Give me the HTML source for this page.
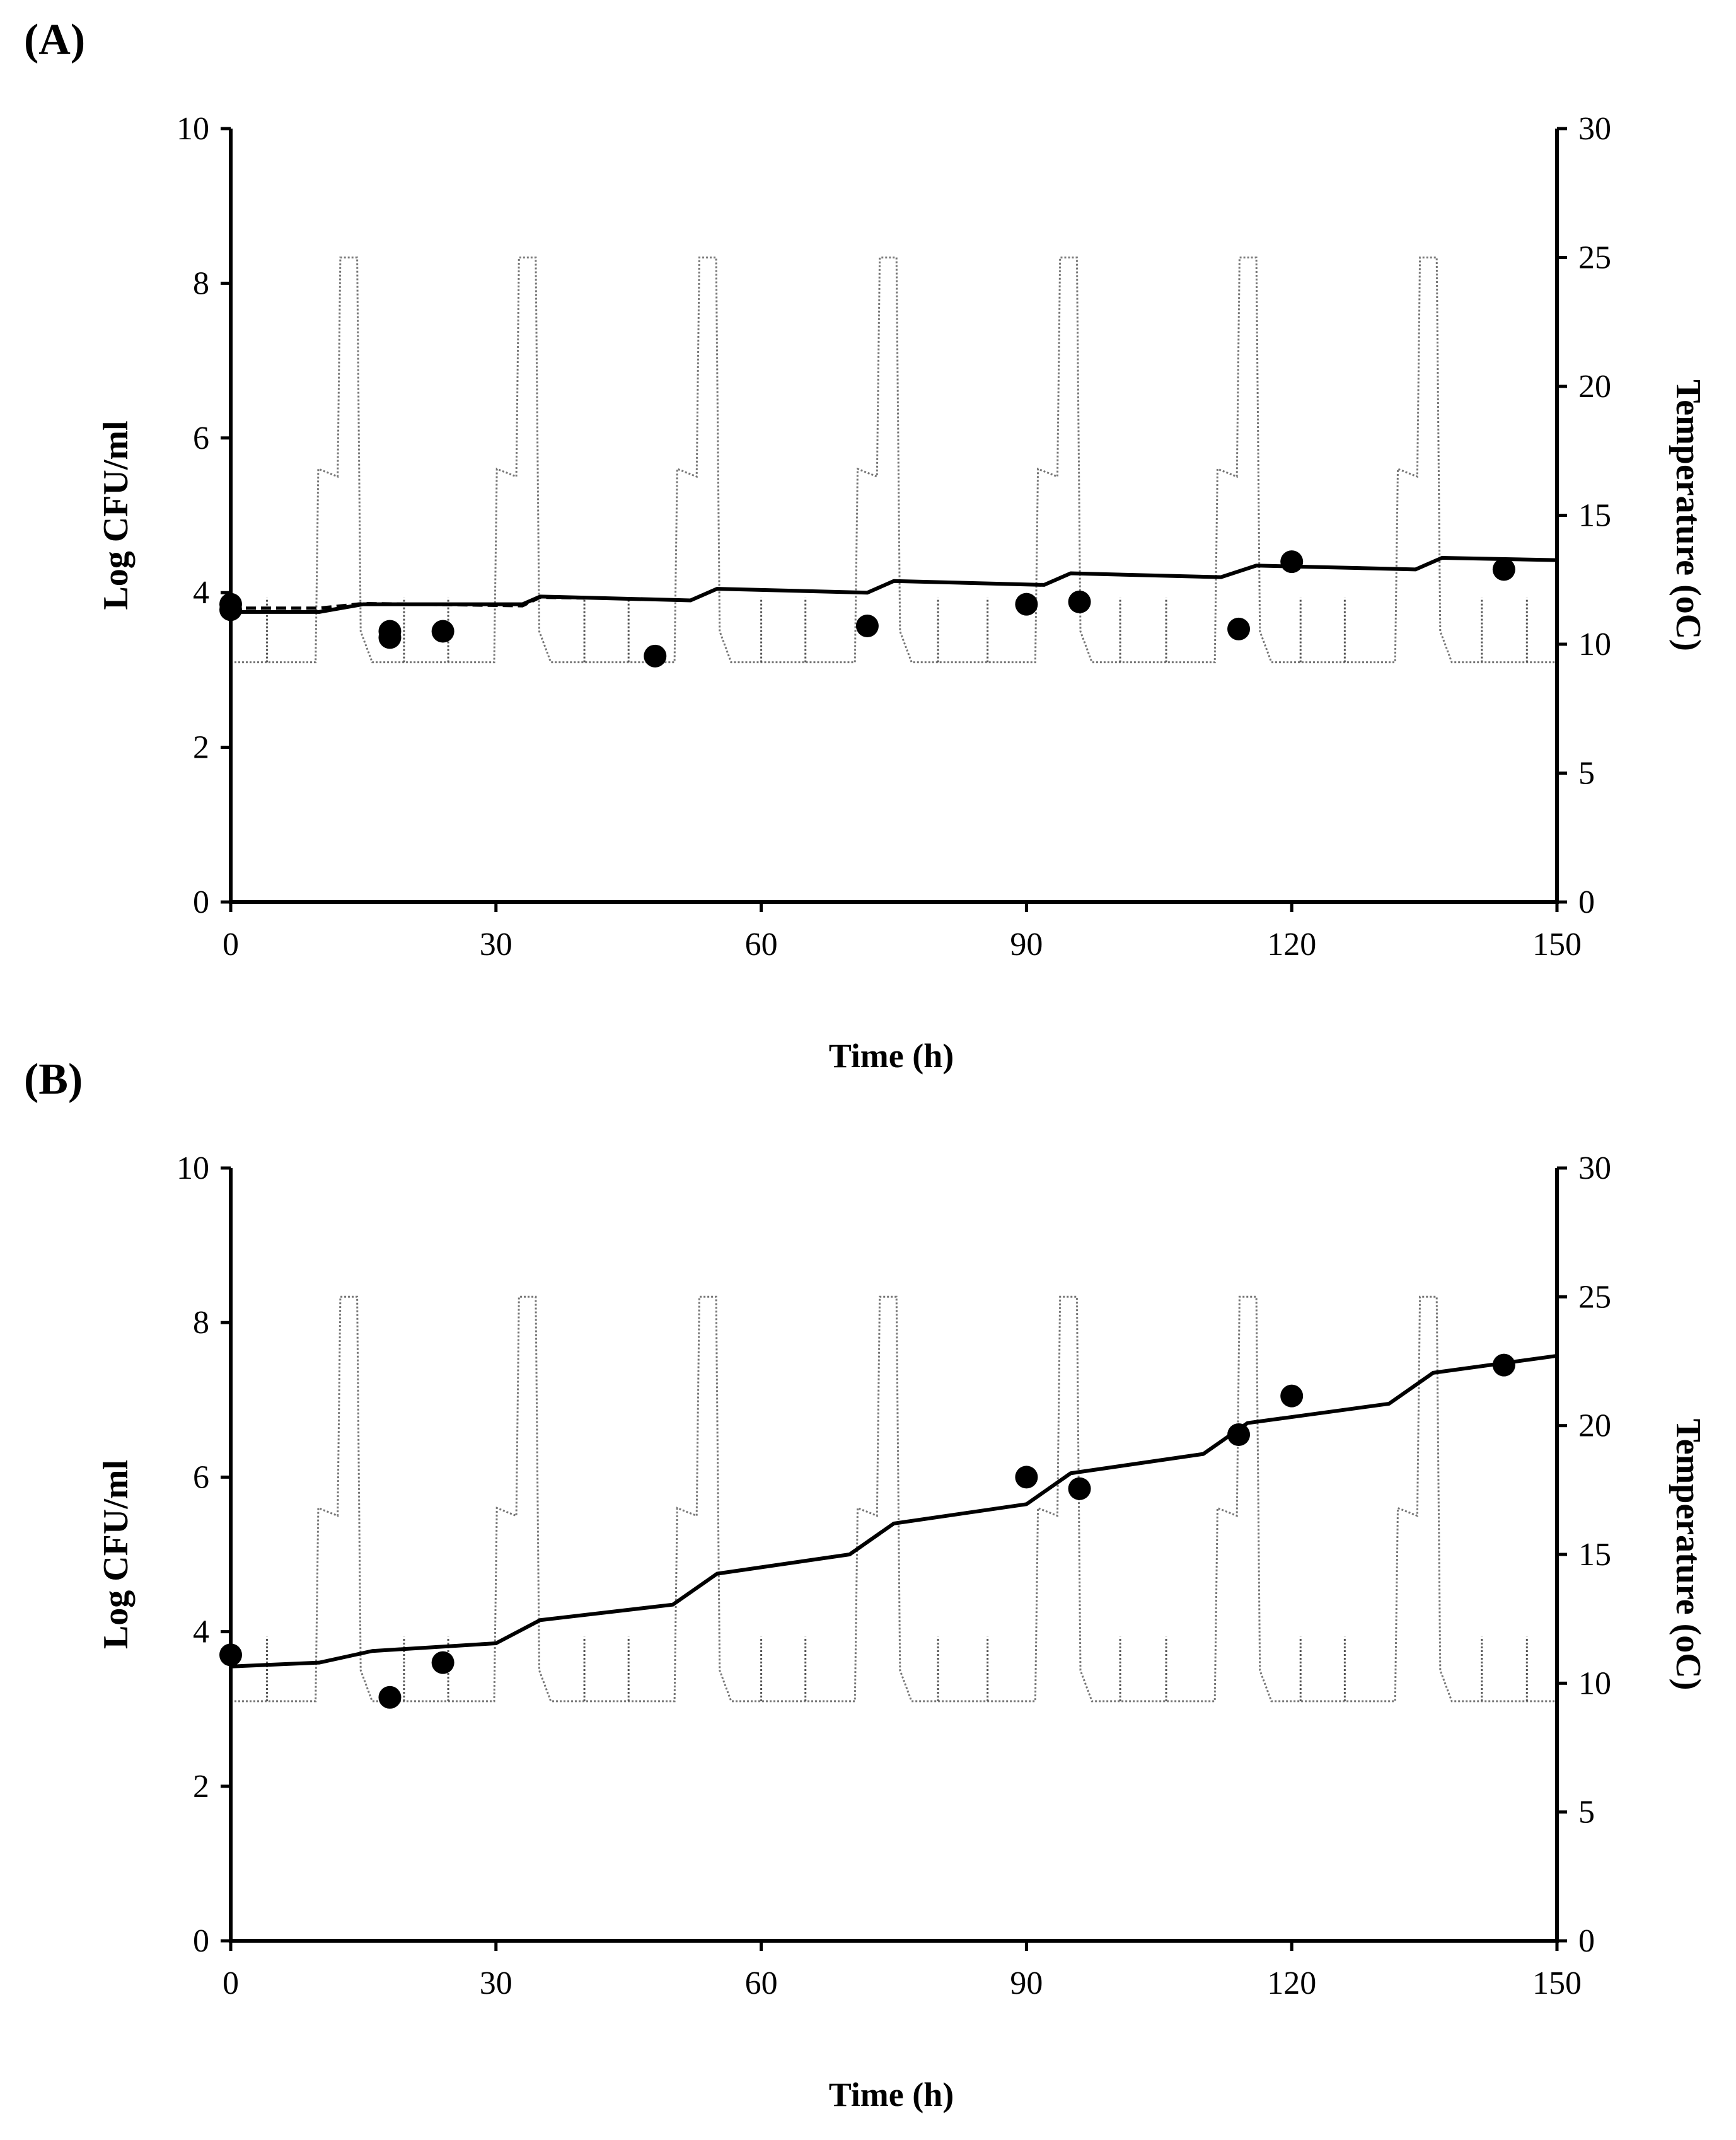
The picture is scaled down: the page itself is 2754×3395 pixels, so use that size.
<!DOCTYPE html>
<html><head><meta charset="utf-8"><style>
html,body{margin:0;padding:0;background:#fff;}
svg{display:block;font-family:"Liberation Serif",serif;}
</style></head><body>
<svg id="chart" width="2754" height="3395" viewBox="0 0 2754 3395" xmlns="http://www.w3.org/2000/svg"></svg>
<script>
// ---- data ----
const xTicks = [0,30,60,90,120,150];
const yTicksLeft = [0,2,4,6,8,10];
const yTicksRight = [0,5,10,15,20,25,30];
const tempTimes = [0,9.6,9.9,12.1,12.4,14.3,14.7,16.0,29.8,30.1,32.3,32.6,34.5,34.9,36.2,50.2,50.5,52.7,53.0,54.9,55.3,56.6,70.6,70.9,73.1,73.4,75.3,75.7,77.0,91.0,91.3,93.5,93.8,95.7,96.1,97.4,111.3,111.6,113.8,114.1,116.0,116.4,117.7,131.7,132.0,134.2,134.5,136.4,136.8,138.1,150];
const tempValues = [9.3,9.3,16.8,16.5,25,25,10.5,9.3,9.3,16.8,16.5,25,25,10.5,9.3,9.3,16.8,16.5,25,25,10.5,9.3,9.3,16.8,16.5,25,25,10.5,9.3,9.3,16.8,16.5,25,25,10.5,9.3,9.3,16.8,16.5,25,25,10.5,9.3,9.3,16.8,16.5,25,25,10.5,9.3,9.3];
const spikeTimes = [4.1,19.6,24.6,40,45,60,65,80,85.6,100.6,105.8,121,126,141.5,146.6];
const spikeTop = 11.8;
const spikeBase = 9.3;
const modelATimes = [0,10,15,33,35,52,55,72,75,92,95,112,116,134,137,150];
const modelAValues = [3.75,3.75,3.85,3.85,3.95,3.9,4.05,4.0,4.15,4.1,4.25,4.2,4.35,4.3,4.45,4.42];
const dashATimes = [0,10,15,33,35,40];
const dashAValues = [3.8,3.8,3.86,3.83,3.94,3.93];
const obsATimes = [0,0,18,18,24,48,72,90,96,114,120,144];
const obsAValues = [3.85,3.78,3.5,3.42,3.5,3.18,3.57,3.85,3.88,3.53,4.4,4.3];
const modelBTimes = [0,10,16,30,35,50,55,70,75,90,95,110,115,131,136,150];
const modelBValues = [3.55,3.6,3.75,3.85,4.15,4.35,4.75,5.0,5.4,5.65,6.05,6.3,6.7,6.95,7.35,7.57];
const obsBTimes = [0,18,24,90,96,114,120,144];
const obsBValues = [3.7,3.15,3.6,6.0,5.85,6.55,7.05,7.45];

const NS="http://www.w3.org/2000/svg";
const svg=document.getElementById('chart');
function mk(tag,attrs,parent){const e=document.createElementNS(NS,tag);for(const k in attrs)e.setAttribute(k,attrs[k]);(parent||svg).appendChild(e);return e;}

function panel(letter,top,bottom,modelT,modelV,obsT,obsV,dashT,dashV){
  const X0=366,X1=2470;
  const g=mk('g',{});
  
  
  const xs=t=>X0+(X1-X0)*t/150;
  const yl=v=>bottom-(bottom-top)*v/10;
  const yr=v=>bottom-(bottom-top)*v/30;
  const lab=mk('text',{x:38,y:top-118,'font-size':70,'font-weight':'bold'},g);
  lab.textContent='('+letter+')';
  
  
  let d='';
  tempTimes.forEach((t,i)=>{d+=(i?'L':'M')+xs(t).toFixed(1)+' '+yr(tempValues[i]).toFixed(1);});
  const tl=mk('path',{d:d,fill:'none',stroke:'#777','stroke-width':3,'stroke-dasharray':'3 3'},g);
  
  
  spikeTimes.forEach(t=>{
    const s=mk('line',{x1:xs(t),x2:xs(t),y1:yr(spikeBase),y2:yr(spikeTop),stroke:'#555','stroke-width':3,'stroke-dasharray':'3 3'},g);
    
    
  });
  if(dashT){
    let dd='';dashT.forEach((t,i)=>{dd+=(i?'L':'M')+xs(t)+' '+yl(dashV[i]);});
    const dl=mk('path',{d:dd,fill:'none',stroke:'#000','stroke-width':5,'stroke-dasharray':'16 8'},g);
    
    
  }
  let md='';modelT.forEach((t,i)=>{md+=(i?'L':'M')+xs(t)+' '+yl(modelV[i]);});
  const ml=mk('path',{d:md,fill:'none',stroke:'#000','stroke-width':6,'stroke-linejoin':'round'},g);
  
  
  obsT.forEach((t,i)=>{
    const c=mk('circle',{cx:xs(t),cy:yl(obsV[i]),r:18,fill:'#000'},g);
    
    
  });
  const ax=mk('path',{d:`M${X0} ${top}V${bottom}H${X1}V${top}`,fill:'none',stroke:'#000','stroke-width':6},g);
  
  
  yTicksLeft.forEach(v=>{
    mk('line',{x1:X0-16,x2:X0,y1:yl(v),y2:yl(v),stroke:'#000','stroke-width':5},g);
    const t=mk('text',{x:X0-34,y:yl(v)+17,'font-size':52,'text-anchor':'end'},g);
    t.textContent=v;
    
    
  });
  yTicksRight.forEach(v=>{
    mk('line',{x1:X1,x2:X1+16,y1:yr(v),y2:yr(v),stroke:'#000','stroke-width':5},g);
    const t=mk('text',{x:X1+34,y:yr(v)+17,'font-size':52},g);
    t.textContent=v;
    
    
  });
  xTicks.forEach(v=>{
    mk('line',{x1:xs(v),x2:xs(v),y1:bottom,y2:bottom+16,stroke:'#000','stroke-width':5},g);
    const t=mk('text',{x:xs(v),y:bottom+84,'font-size':52,'text-anchor':'middle'},g);
    t.textContent=v;
    
    
  });
  const xt=mk('text',{x:(X0+X1)/2-4,y:bottom+262,'font-size':54,'font-weight':'bold','text-anchor':'middle'},g);
  xt.textContent='Time (h)';
  
  
  const mid=(top+bottom)/2;
  const yt=mk('text',{x:0,y:0,'font-size':56,'font-weight':'bold','text-anchor':'middle',transform:`translate(202 ${mid}) rotate(-90)`},g);
  yt.textContent='Log CFU/ml';
  
  
  const rt=mk('text',{x:0,y:0,'font-size':56,'font-weight':'bold','text-anchor':'middle',transform:`translate(2660 ${mid}) rotate(90)`},g);
  rt.textContent='Temperature (oC)';
  
  
}
panel('A',204,1431,modelATimes,modelAValues,obsATimes,obsAValues,dashATimes,dashAValues);
panel('B',1853,3079,modelBTimes,modelBValues,obsBTimes,obsBValues,null,null);
</script>
</body></html>
